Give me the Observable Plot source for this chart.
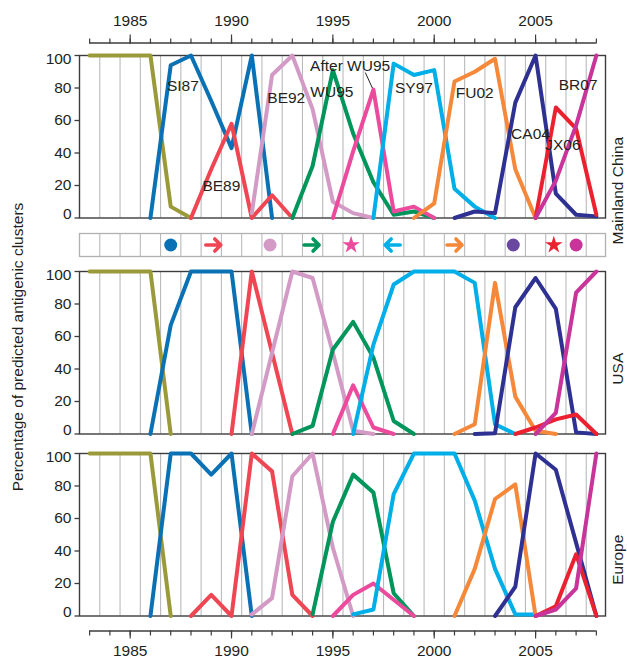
<!DOCTYPE html>
<html>
<head>
<meta charset="utf-8">
<script src="https://cdn.jsdelivr.net/npm/d3@7"></script>
<script src="https://cdn.jsdelivr.net/npm/@observablehq/plot@0.6"></script>
<style>
  body { margin: 0; background: #fff; }
  #chart { position: relative; width: 627px; height: 660px; font-family: "Liberation Sans", Arial, sans-serif; color: #231f20; }
  #ytitle { position: absolute; left: 18px; top: 347px; transform: translate(-50%, -50%) rotate(-90deg); white-space: nowrap; font-size: 15.5px; }
</style>
</head>
<body>
<div id="chart"><div id="ytitle">Percentage of predicted antigenic clusters</div></div>
<script>
// ---------- data ----------
const clusterNames  = ["Earlier", "SI87", "BE89", "BE92", "WU95", "After WU95", "SY97", "FU02", "CA04", "JX06", "BR07"];
const clusterColors = ["#9b9a3a", "#0a71b5", "#ef4654", "#d49ac6", "#00955a", "#ec4a9d", "#00aee8", "#f6883a", "#2e3192", "#ec2130", "#c9349a"];

// [cluster, first year, yearly percentages]
const chinaSeries = [
  ["Earlier",    1983, [100, 100, 100, 100, 7, 0]],
  ["SI87",       1986, [0, 94, 100, 72, 43, 100, 0]],
  ["BE89",       1988, [0, 30, 58, 0, 14, 0]],
  ["BE92",       1991, [3, 88, 100, 67, 10, 3, 0]],
  ["WU95",       1993, [0, 32, 91, 52, 22, 2, 4, 0]],
  ["After WU95", 1995, [0, 41, 79, 4, 7, 0]],
  ["SY97",       1997, [0, 95, 88, 91, 18, 7, 0]],
  ["FU02",       1999, [0, 9, 84, 90, 98, 30, 0]],
  ["CA04",       2001, [0, 4, 3, 71, 100, 15, 2, 1]],
  ["JX06",       2005, [0, 68, 55, 2]],
  ["BR07",       2005, [0, 23, 57, 100]]
];
const usaSeries = [
  ["Earlier",    1983, [100, 100, 100, 100, 0]],
  ["SI87",       1986, [0, 67, 100, 100, 100, 0]],
  ["BE89",       1990, [0, 100, 50, 0]],
  ["BE92",       1991, [0, 50, 100, 96, 50, 2, 0]],
  ["WU95",       1993, [0, 5, 52, 69, 47, 8, 0]],
  ["After WU95", 1995, [0, 30, 4, 0]],
  ["SY97",       1996, [0, 55, 92, 100, 100, 100, 93, 6, 0]],
  ["FU02",       2001, [0, 6, 93, 23, 2, 0]],
  ["CA04",       2002, [0, 0.5, 78, 96, 77, 1, 0]],
  ["JX06",       2004, [0, 4, 9, 12, 0]],
  ["BR07",       2005, [0, 13, 87, 100]]
];
const europeSeries = [
  ["Earlier",    1983, [100, 100, 100, 100, 0]],
  ["SI87",       1986, [0, 100, 100, 87, 100, 0]],
  ["BE89",       1988, [0, 13, 0, 100, 89, 13, 0]],
  ["BE92",       1991, [1, 11, 86, 100, 42, 0]],
  ["WU95",       1994, [1, 58, 87, 76, 14, 0]],
  ["After WU95", 1995, [0, 13, 20, 10, 0]],
  ["SY97",       1996, [1, 4, 75, 100, 100, 100, 71, 29, 1, 1]],
  ["FU02",       2001, [0, 29, 72, 81, 0]],
  ["CA04",       2003, [0, 18, 100, 90, 45, 0]],
  ["JX06",       2005, [0, 6, 38, 0]],
  ["BR07",       2005, [0, 4, 17, 100]]
];

// cluster name labels in the Mainland China panel
const chinaLabelText   = ["SI87", "BE89", "BE92", "After WU95", "WU95", "SY97", "FU02", "CA04", "JX06", "BR07"];
const chinaLabelYear   = [1987.6, 1989.5, 1992.7, 1995.85, 1994.95, 1999.0, 2002.0, 2004.75, 2006.35, 2007.1];
const chinaLabelValue  = [81.5, 19.4, 73.7, 93.8, 77.4, 79.9, 77.0, 51.5, 44.8, 82.0];
const leaderLine = [{x1: 1996.6, y1: 89.5, x2: 1996.95, y2: 80}];

// symbol strip between the China and USA panels
const stripYears  = [1987, 1989.1, 1991.9, 1993.95, 1995.9, 1997.95, 2001, 2003.9, 2005.9, 2007];
const stripShapes = ["circle", "arrowRight", "circle", "arrowRight", "star", "arrowLeft", "arrowRight", "circle", "star", "circle"];
const stripColors = ["#0a71b5", "#ef4654", "#d49ac6", "#00955a", "#ec4a9d", "#00aee8", "#f6883a", "#6a47a0", "#ec2130", "#c9349a"];

const panelNames = ["Mainland China", "USA", "Europe"];
const majorYears = [1985, 1990, 1995, 2000, 2005];
const minorYears = d3.range(1983, 2009);
const axisExtent = [1983, 2008];
const gridYears  = d3.range(1983.5, 2008, 1);
const yTicks     = [0, 20, 40, 60, 80, 100];

// ---------- layout ----------
const W = 627, ML = 79, MR = 22;
const xDomain = [1982.5, 2008.45];
const panelH = 162.5;
const FONT = "15.5px";
const baseStyle = {background: "transparent", overflow: "visible", fontFamily: "'Liberation Sans', Arial, sans-serif", fontSize: FONT, color: "#231f20"};
const chart = document.getElementById("chart");

function place(svg, top) {
  svg.style.position = "absolute";
  svg.style.left = "0px";
  svg.style.top = top + "px";
  chart.appendChild(svg);
}

function toRows(series) {
  return series.flatMap(([cluster, start, values]) => values.map((v, i) => ({cluster, year: start + i, value: v})));
}

function panelPlot(series, label, extra = []) {
  const rows = toRows(series);
  const lab = {frameAnchor: "left", y: d => d, text: d => String(d), dx: -8, textAnchor: "end", fontSize: FONT};
  return Plot.plot({
    width: W, height: panelH + 20, marginTop: 10, marginBottom: 10, marginLeft: ML, marginRight: MR,
    style: baseStyle,
    x: {domain: xDomain, axis: null, label: null},
    y: {domain: [0, 100], axis: null, label: null},
    color: {domain: clusterNames, range: clusterColors},
    marks: [
      Plot.ruleX(gridYears, {stroke: "#b9babc", strokeWidth: 1.1}),
      Plot.frame({stroke: "#3c3c3c", strokeWidth: 1.4}),
      Plot.axisY({ticks: yTicks, tickSize: 4.5, tickFormat: () => "", label: null, stroke: "#3c3c3c", strokeWidth: 1.3}),
      Plot.text(yTicks.filter(v => v > 0 && v < 100), lab),
      Plot.text(yTicks.filter(v => v === 100), {...lab, dy: 4}),
      Plot.text(yTicks.filter(v => v === 0), {...lab, dy: -4}),
      Plot.line(rows, {x: "year", y: "value", z: "cluster", stroke: "cluster", strokeWidth: 4, strokeLinejoin: "round", strokeLinecap: "round"}),
      ...extra,
      Plot.text([label], {text: d => d, frameAnchor: "right", dx: 13, rotate: -90, fontSize: FONT})
    ]
  });
}

function axisPlot(anchor) {
  const top = anchor === "top";
  return Plot.plot({
    width: W, height: top ? 52 : 40,
    marginTop: top ? 42.5 : 0, marginBottom: top ? 0 : 29.5, marginLeft: ML, marginRight: MR,
    style: baseStyle,
    x: {domain: xDomain, axis: null, label: null},
    y: {domain: [0, 1], axis: null, label: null},
    marks: [
      Plot.ruleY([top ? 1 : 0], {y: d => d, x1: () => axisExtent[0], x2: () => axisExtent[1], stroke: "#3c3c3c", strokeWidth: 1.4}),
      Plot.axisX({anchor, ticks: minorYears, tickSize: 5, tickFormat: () => "", label: null, stroke: "#3c3c3c", strokeWidth: 1.2}),
      Plot.axisX({anchor, ticks: majorYears, tickSize: top ? 9 : 8, tickPadding: top ? 8 : 5.5, tickFormat: d => String(d), label: null, stroke: "#3c3c3c", strokeWidth: 1.2, fontSize: FONT})
    ]
  });
}

function stripPlot() {
  const sym = stripYears.map((year, i) => ({year, shape: stripShapes[i], color: stripColors[i]}));
  return Plot.plot({
    width: W, height: 33, marginTop: 5, marginBottom: 5, marginLeft: ML, marginRight: MR,
    style: baseStyle,
    x: {domain: xDomain, axis: null, label: null},
    color: {type: "identity"},
    marks: [
      Plot.ruleX(gridYears, {stroke: "#b9babc", strokeWidth: 1.1}),
      Plot.frame({stroke: "#b0b1b3", strokeWidth: 1.3}),
      Plot.dot(sym.filter(d => d.shape === "circle"), {x: "year", r: 6.5, fill: "color", stroke: null}),
      Plot.dot(sym.filter(d => d.shape === "star"), {x: "year", r: 5.5, symbol: "star", fill: "color", stroke: null}),
      Plot.vector(sym.filter(d => d.shape === "arrowRight"), {x: "year", rotate: 90, length: 15, anchor: "middle", shape: "arrow", r: 7, stroke: "color", strokeWidth: 3.6}),
      Plot.vector(sym.filter(d => d.shape === "arrowLeft"), {x: "year", rotate: -90, length: 15, anchor: "middle", shape: "arrow", r: 7, stroke: "color", strokeWidth: 3.6})
    ]
  });
}

const chinaLabels = chinaLabelText.map((t, i) => ({t, x: chinaLabelYear[i], y: chinaLabelValue[i]}));
const chinaExtra = [
  Plot.link(leaderLine, {x1: "x1", y1: "y1", x2: "x2", y2: "y2", stroke: "#231f20", strokeWidth: 1}),
  Plot.text(chinaLabels, {x: "x", y: "y", text: "t", fontSize: FONT, fill: "#231f20"})
];

place(axisPlot("top"), 0);
place(panelPlot(chinaSeries, panelNames[0], chinaExtra), 45);
place(stripPlot(), 227.7);
place(panelPlot(usaSeries, panelNames[1]), 261);
place(panelPlot(europeSeries, panelNames[2]), 443);
place(axisPlot("bottom"), 620);
</script>
</body>
</html>
